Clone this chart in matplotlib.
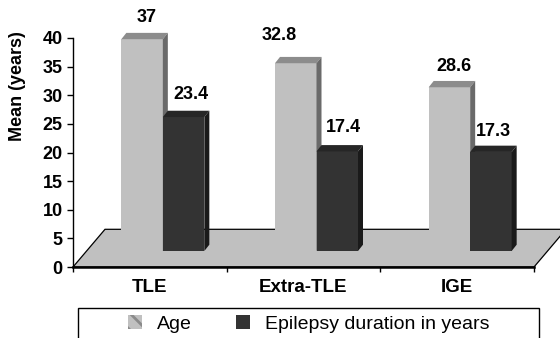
# -*- coding: utf-8 -*-

#
# Title: Mean age / epilepsy duration by epilepsy type (Excel style 3D bars)
#

import matplotlib.pyplot as plt
from matplotlib.patches import Polygon, Rectangle, Patch


# 数据
categories = ['TLE', 'Extra-TLE', 'IGE']
age = [37, 32.8, 28.6]
duration = [23.4, 17.4, 17.3]
series_names = ['Age', 'Epilepsy duration in years']
y_ticks = [0, 5, 10, 15, 20, 25, 30, 35, 40]

plt.rcParams['font.family'] = ['Liberation Sans', 'DejaVu Sans']
plt.rcParams['hatch.linewidth'] = 2.0

W, H = 560, 338
fig = plt.figure(figsize=(W / 100, H / 100), dpi=100)
# axes: x 0..3 from px 73 to 534, y 0..40 from px 267 to 38
ax = fig.add_axes([73 / W, (H - 267) / H, 461 / W, 229 / H])
ax.set_xlim(0, len(categories))
ax.set_ylim(0, 40)

px_x = len(categories) / 461   # data units per pixel
px_y = 40 / 229

# 地板
floor_dx, floor_dy = 32 * px_x, 37.7 * px_y
floor = Polygon([(0, 0), (3, 0), (3 + floor_dx, floor_dy), (floor_dx, floor_dy)],
                closed=True, facecolor='#c0c0c0', edgecolor='black', lw=0.9,
                clip_on=False, zorder=1)
ax.add_patch(floor)

# 柱子位于地板中间深度
base_dx, base_dy = 13 * px_x, 16 * px_y
bar_w = 41.5 * px_x
dep_x, dep_y = 5 * px_x, 6.3 * px_y


def bar3d(x0, h, front, top, side):
    y0 = base_dy
    ax.add_patch(Rectangle((x0, y0), bar_w, h, facecolor=front, edgecolor='none',
                           clip_on=False, zorder=2))
    ax.add_patch(Polygon([(x0, y0 + h), (x0 + bar_w, y0 + h),
                          (x0 + bar_w + dep_x, y0 + h + dep_y), (x0 + dep_x, y0 + h + dep_y)],
                         facecolor=top, edgecolor='none', clip_on=False, zorder=2))
    ax.add_patch(Polygon([(x0 + bar_w, y0), (x0 + bar_w, y0 + h),
                          (x0 + bar_w + dep_x, y0 + h + dep_y), (x0 + bar_w + dep_x, y0 + dep_y)],
                         facecolor=side, edgecolor='none', clip_on=False, zorder=2))


# 数据标签偏移 (像素, 相对柱子正面顶部中心)
age_label_off = [(4.5, 21.6), (-16.5, 28), (5, 20.6)]
dur_label_off = [(7.5, 23), (6, 23.4), (2.5, 20.3)]

for i in range(len(categories)):
    c = i + 0.5 + base_dx
    bar3d(c - bar_w, age[i], '#c0c0c0', '#8c8c8c', '#6a6a6a')
    bar3d(c, duration[i], '#333333', '#262626', '#1a1a1a')
    for x0, v, off in [(c - bar_w, age[i], age_label_off[i]), (c, duration[i], dur_label_off[i])]:
        ax.annotate(str(v), xy=(x0 + bar_w / 2, base_dy + v), xytext=(off[0] * 0.72, off[1] * 0.72),
                    textcoords='offset points', ha='center', va='center',
                    fontsize=13, fontweight='bold', annotation_clip=False)

# 坐标轴
for s in ['top', 'right']:
    ax.spines[s].set_visible(False)
ax.spines['bottom'].set_linewidth(1.8)
ax.spines['left'].set_linewidth(1.0)
ax.spines['bottom'].set_zorder(3)
ax.set_yticks(y_ticks)
ax.set_yticklabels([str(t) for t in y_ticks], fontsize=13, fontweight='bold')
ax.tick_params(axis='y', length=4.3, width=1, pad=3)
ax.set_xticks([0, 1, 2, 3])
ax.set_xticklabels([])
ax.set_xticks([i + 0.5 for i in range(len(categories))], minor=True)
ax.set_xticklabels(categories, minor=True, fontsize=13.5, fontweight='bold')
ax.tick_params(axis='x', which='major', length=3.6, width=1)
ax.tick_params(axis='x', which='minor', length=0, pad=9)
ax.patch.set_visible(False)

fig.text(18 / W, 1 - 86 / H, 'Mean (years)', rotation=90, ha='center', va='center',
         fontsize=13, fontweight='bold')

# 图例
fig.add_artist(Rectangle((78 / W, -0.05), (539 - 78) / W, 0.05 + (H - 308) / H,
                         transform=fig.transFigure, fill=False, edgecolor='black', lw=1))
handles = [Patch(facecolor='#c0c0c0', edgecolor='#8a8a8a', lw=0, hatch='\\\\'),
           Patch(facecolor='#333333', edgecolor='none')]
fig.legend(handles, series_names, loc='center', bbox_to_anchor=(309 / W, 1 - 324 / H), ncol=2,
           frameon=False, fontsize=14, handlelength=0.72, handleheight=0.72,
           handletextpad=0.77, columnspacing=2.27)

plt.savefig('out.png', dpi=100)
